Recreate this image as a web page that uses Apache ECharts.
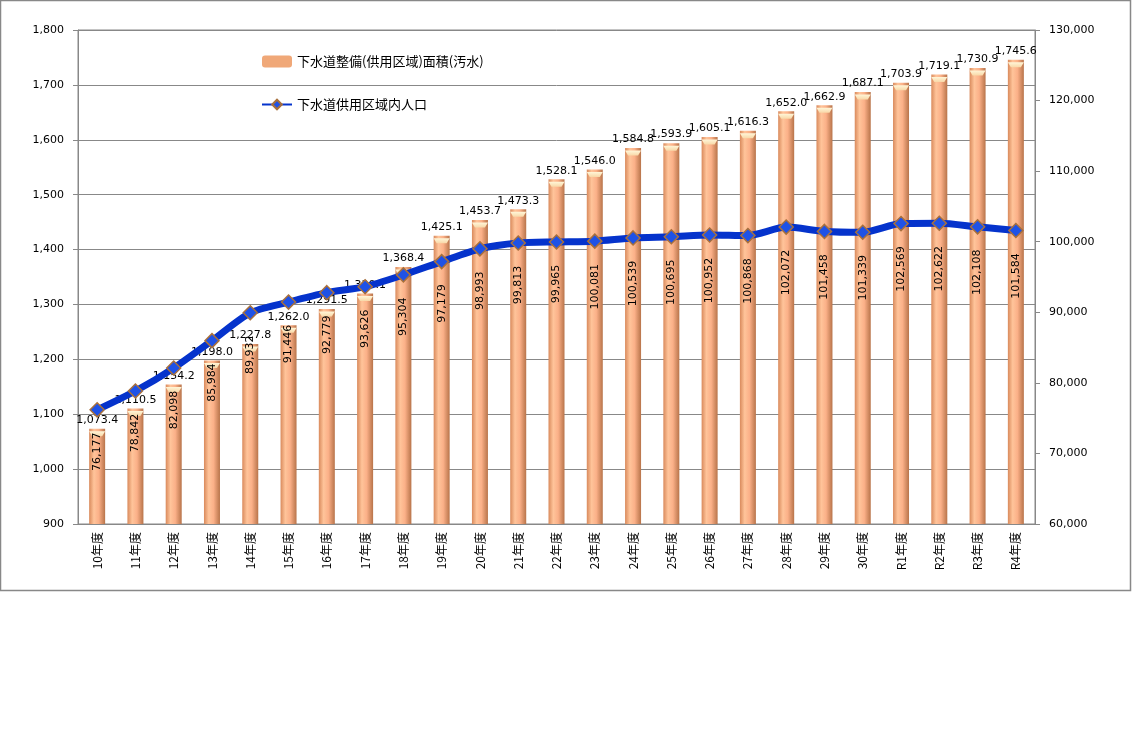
<!DOCTYPE html>
<html>
<head>
<meta charset="utf-8">
<script src="https://cdn.jsdelivr.net/npm/echarts@6/dist/echarts.min.js"></script>
<style>
html,body{margin:0;padding:0;background:#fff;}
#chart{width:1132px;height:732px;}
</style>
</head>
<body>
<div id="chart"></div>
<script>
const categories = ['10年度','11年度','12年度','13年度','14年度','15年度','16年度','17年度','18年度','19年度','20年度','21年度','22年度','23年度','24年度','25年度','26年度','27年度','28年度','29年度','30年度','R1年度','R2年度','R3年度','R4年度'];
const areaValues = [1073.4,1110.5,1154.2,1198.0,1227.8,1262.0,1291.5,1320.1,1368.4,1425.1,1453.7,1473.3,1528.1,1546.0,1584.8,1593.9,1605.1,1616.3,1652.0,1662.9,1687.1,1703.9,1719.1,1730.9,1745.6];
const popValues = [76177,78842,82098,85984,89932,91446,92779,93626,95304,97179,98993,99813,99965,100081,100539,100695,100952,100868,102072,101458,101339,102569,102622,102108,101584];
const areaName = '下水道整備(供用区域)面積(汚水)';
const popName = '下水道供用区域内人口';

const numFont = 'DejaVu Sans';
const jpFont = 'Noto Sans CJK JP';
const fmt1 = v => v.toLocaleString('en-US',{minimumFractionDigits:1,maximumFractionDigits:1});
const fmt0 = v => v.toLocaleString('en-US');

const chart = echarts.init(document.getElementById('chart'), null, {renderer:'canvas'});
const barGrad = new echarts.graphic.LinearGradient(0,0,1,0,[
  {offset:0,color:'#D98A5C'},
  {offset:0.3,color:'#FFC49A'},
  {offset:0.6,color:'#FBB088'},
  {offset:1,color:'#B8744A'}
]);
const capGrad = new echarts.graphic.LinearGradient(0,0,0,1,[
  {offset:0,color:'#FFF6D8'},
  {offset:1,color:'#F8D8A8'}
]);
chart.setOption({
  animation:false,
  backgroundColor:'#fff',
  graphic:[{type:'rect',shape:{x:0.5,y:0.5,width:1130,height:590},style:{fill:'none',stroke:'#888',lineWidth:1.5},z:-1}],
  grid:{left:78,top:30,right:97,bottom:208,show:true,borderColor:'#888',borderWidth:1},
  legend:{
    orient:'vertical',left:256,top:50,itemGap:30,itemWidth:30,itemHeight:12,
    textStyle:{fontFamily:jpFont,fontSize:13,color:'#000'},
    data:[{name:areaName,icon:'roundRect',itemStyle:{color:'#F0A878'}},{name:popName}]
  },
  xAxis:{
    type:'category',data:categories,
    axisLine:{lineStyle:{color:'#888'}},
    axisTick:{inside:true,length:5,lineStyle:{color:'#888'}},
    axisLabel:{rotate:90,fontFamily:jpFont,fontSize:12,color:'#000',margin:8}
  },
  yAxis:[
    {type:'value',min:900,max:1800,interval:100,
     axisLine:{show:true,lineStyle:{color:'#888'}},
     axisTick:{show:true,length:5,lineStyle:{color:'#888'}},
     splitLine:{lineStyle:{color:'#888'}},
     axisLabel:{formatter:v=>fmt0(v),fontFamily:numFont,fontSize:11,color:'#000',margin:14}},
    {type:'value',min:60000,max:130000,interval:10000,
     axisLine:{show:true,lineStyle:{color:'#888'}},
     axisTick:{show:true,length:5,lineStyle:{color:'#888'}},
     splitLine:{show:false},
     axisLabel:{formatter:v=>fmt0(v),fontFamily:numFont,fontSize:11,color:'#000',margin:14}}
  ],
  series:[
    {name:areaName,type:'bar',data:areaValues,barWidth:16,yAxisIndex:0,
     itemStyle:{color:barGrad},
     label:{show:true,position:'top',distance:3,formatter:p=>fmt1(p.value),fontFamily:numFont,fontSize:11,color:'#000'}},
    {name:'cap',type:'pictorialBar',data:areaValues,yAxisIndex:0,barGap:'-100%',
     symbol:'path://M0,0 L16,0 L13,5 L3,5 Z',symbolSize:[16,5],symbolPosition:'end',symbolOffset:[0,'50%'],
     itemStyle:{color:capGrad},silent:true,z:3,label:{show:false}},
    {name:popName,type:'line',data:popValues,yAxisIndex:1,smooth:0.25,
     lineStyle:{color:'#0533CC',width:7},
     symbol:'diamond',symbolSize:14,
     itemStyle:{color:'#1F52E6',borderColor:'#A8703C',borderWidth:1.5},
     label:{show:true,position:'bottom',rotate:90,align:'right',verticalAlign:'middle',distance:15,
       formatter:p=>fmt0(p.value),fontFamily:numFont,fontSize:11,color:'#000'},
     z:5}
  ]
});
</script>
</body>
</html>
